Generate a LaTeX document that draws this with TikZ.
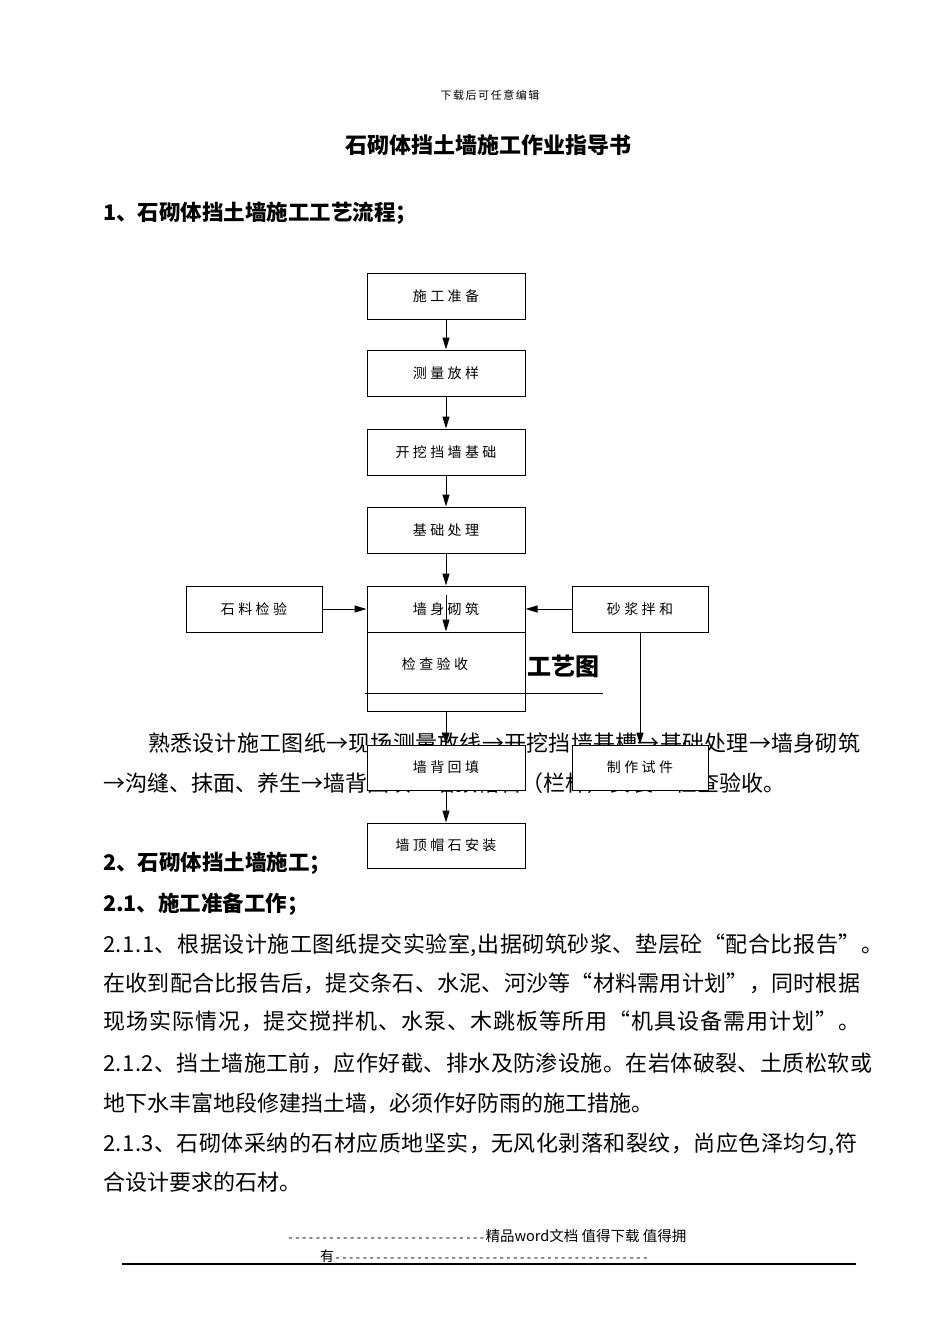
\documentclass[tikz,border=0pt]{standalone}
\usepackage{fontspec}
\setmainfont{Noto Sans CJK SC}
\newfontfamily\boxfont[LetterSpace=24]{Noto Sans CJK SC}
\newfontfamily\hdfont[LetterSpace=14]{Noto Sans CJK SC}
\newfontfamily\dashfont{Liberation Mono}
\usetikzlibrary{arrows.meta}
\makeatletter
\newcommand\jline[2]{\hbox to #1{\@tfor\my@ch:=#2\do{\my@ch\hskip 0pt plus 1fil\relax}\unskip}}
\makeatother
\begin{document}
\begin{tikzpicture}[x=1pt,y=-1pt,
  fbox/.style={draw, line width=1pt, fill=white, minimum width=158pt, minimum height=46pt, inner sep=0pt, font=\boxfont\fontsize{14}{16}\selectfont},
  sbox/.style={fbox, minimum width=136pt},
  blab/.style={inner sep=0pt, font=\boxfont\fontsize{14}{16}\selectfont},
  arr/.style={-{Triangle[length=12pt,width=7pt]}, line width=1pt},
  txt/.style={anchor=base west, inner sep=0pt, font=\fontsize{22}{26}\selectfont},
  hd/.style={anchor=base west, inner sep=0pt, font=\bfseries\fontsize{21.5}{26}\selectfont},
  foot/.style={anchor=base west, inner sep=0pt}]
\useasboundingbox (0,0) rectangle (950,1344);
\fill[white] (0,0) rectangle (950,1344);

% ---------- page text ----------
\node[anchor=base, inner sep=0pt, font=\hdfont\fontsize{11}{13}\selectfont] (hdr) at (490,99) {下载后可任意编辑};
\node[anchor=base, inner sep=0pt, font=\bfseries\fontsize{22}{26}\selectfont] (title) at (488,153) {石砌体挡土墙施工作业指导书};
\node[hd] (h1) at (103,220) {1、石砌体挡土墙施工工艺流程；};

\node[anchor=base east, inner sep=0pt, font=\bfseries\fontsize{24}{28}\selectfont] (h11) at (600,675) {施工工艺图};
\draw[line width=0.8pt] (365,693) -- (603,693);

\node[txt] (f1) at (148,751) {\jline{712pt}{熟悉设计施工图纸→现场测量放线→开挖挡墙基槽→基础处理→墙身砌筑}};
\node[txt] (f2) at (103,791) {→沟缝、抹面、养生→墙背回填→墙顶帽石（栏杆）安装→检查验收。};

\node[hd] (h2) at (103,870) {2、石砌体挡土墙施工；};
\node[hd] (h21) at (103,911) {2.1、施工准备工作；};

\node[txt] (p1) at (103,952) {\jline{780pt}{2.1.1、根据设计施工图纸提交实验室,出据砌筑砂浆、垫层砼“配合比报告”。}};
\node[txt] (p2) at (103,991) {\jline{757pt}{在收到配合比报告后，提交条石、水泥、河沙等“材料需用计划”，同时根据}};
\node[txt] (p3) at (103,1029) {\jline{757pt}{现场实际情况，提交搅拌机、水泵、木跳板等所用“机具设备需用计划”。}};
\node[txt] (p4) at (103,1071) {\jline{769pt}{2.1.2、挡土墙施工前，应作好截、排水及防渗设施。在岩体破裂、土质松软或}};
\node[txt] (p5) at (103,1111) {地下水丰富地段修建挡土墙，必须作好防雨的施工措施。};
\node[txt] (p6) at (103,1151) {\jline{754pt}{2.1.3、石砌体采纳的石材应质地坚实，无风化剥落和裂纹，尚应色泽均匀,符}};
\node[txt] (p7) at (103,1190) {合设计要求的石材。};

% footer
\node[foot] (ft1) at (287,1241) {{\dashfont\fontsize{11.4}{14}\selectfont -----------------------------}{\fontsize{14.5}{16}\selectfont 精品word文档 值得下载 值得拥}};
\node[foot] (ft2) at (320,1261) {{\fontsize{14}{16}\selectfont 有}{\dashfont\fontsize{11.4}{14}\selectfont ----------------------------------------------}};
\draw[line width=1.5pt] (122,1264) -- (856,1264);

% ---------- flow chart ----------
\node[fbox] (s1) at (446,296.5) {施工准备};
\node[fbox] (s2) at (446,373) {测量放样};
\node[fbox] (s3) at (446,452) {开挖挡墙基础};
\node[fbox] (s4) at (446,530) {基础处理};
\node[fbox] (s5) at (446,609) {墙身砌筑};
\node[sbox] (sl) at (254,609) {石料检验};
\node[sbox] (sm) at (640,609) {砂浆拌和};
\node[fbox, minimum height=61pt] (chkw) at (446,662.5) {};
\node[blab] (chkt) at (435,664) {检查验收};
\node[draw, line width=1pt, minimum width=158pt, minimum height=79pt, inner sep=0pt] (chk) at (446,671.5) {};
\node[fbox, minimum height=45pt] (s6) at (446,767.5) {墙背回填};
\node[sbox, minimum height=45pt] (sz) at (640,767.5) {制作试件};
\node[fbox, minimum height=45pt] (s7) at (446,845.5) {墙顶帽石安装};

\coordinate (win) at (446,595);

\draw[arr] (s1.south) -- (s2.north);
\draw[arr] (s2.south) -- (s3.north);
\draw[arr] (s3.south) -- (s4.north);
\draw[arr] (s4.south) -- (s5.north);
\draw[arr] (sl.east) -- (s5.west);
\draw[arr] (sm.west) -- (s5.east);
\draw[arr] (win) -- (chk.north);
\draw[arr] (chk.south) -- (s6.north);
\draw[arr] (sm.south) -- (sz.north);
\draw[arr] (s6.south) -- (s7.north);
\end{tikzpicture}
\end{document}
